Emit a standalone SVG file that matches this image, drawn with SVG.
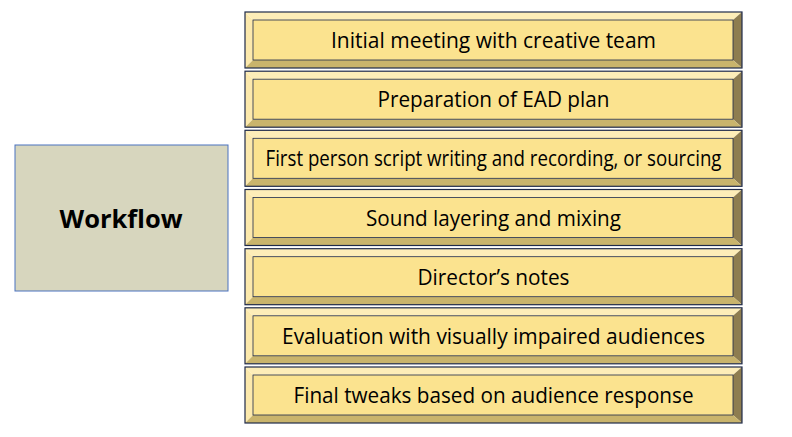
<svg xmlns="http://www.w3.org/2000/svg" width="792" height="437" viewBox="0 0 792 437">
<defs>
<style>
.face{fill:#FBE38F;stroke:#1F2A4A;stroke-width:0.8}
.bt{fill:#FDEDB8}
.bl{fill:#FCE9AC}
.br{fill:#8E7D50}
.bb{fill:#C9B46C}
.edge{fill:none;stroke:#1F2A4A;stroke-width:1.2}
.lbl{font-family:"Open Sans","Noto Sans",sans-serif;font-size:21px;fill:#000;text-anchor:middle}
.wf{font-family:"Open Sans","Noto Sans",sans-serif;font-size:25px;font-weight:bold;fill:#000;text-anchor:middle}
</style>
</defs>
<rect width="792" height="437" fill="#fff"/>
<g id="workflow">
<rect x="15" y="145" width="213" height="146" fill="#D7D6BE" stroke="#4A72C0" stroke-width="1"/>
<text class="wf" x="121" y="228" textLength="123" lengthAdjust="spacingAndGlyphs">Workflow</text>
</g>
<g id="step1" transform="translate(245,12)">
<polygon class="bt" points="0,0 497,0 488,8 8,8"/>
<polygon class="bl" points="0,0 8,8 8,48 0,56"/>
<polygon class="br" points="497,0 497,56 488,48 488,8"/>
<polygon class="bb" points="0,56 8,48 488,48 497,56"/>
<rect class="face" x="8" y="8" width="480" height="40"/>
<rect class="edge" x="0" y="0" width="497" height="56"/>
<text class="lbl" x="248.5" y="36" textLength="325" lengthAdjust="spacingAndGlyphs">Initial meeting with creative team</text>
</g>
<g id="step2" transform="translate(245,71.2)">
<polygon class="bt" points="0,0 497,0 488,8 8,8"/>
<polygon class="bl" points="0,0 8,8 8,48 0,56"/>
<polygon class="br" points="497,0 497,56 488,48 488,8"/>
<polygon class="bb" points="0,56 8,48 488,48 497,56"/>
<rect class="face" x="8" y="8" width="480" height="40"/>
<rect class="edge" x="0" y="0" width="497" height="56"/>
<text class="lbl" x="248.5" y="36" textLength="232" lengthAdjust="spacingAndGlyphs">Preparation of EAD plan</text>
</g>
<g id="step3" transform="translate(245,130.3)">
<polygon class="bt" points="0,0 497,0 488,8 8,8"/>
<polygon class="bl" points="0,0 8,8 8,48 0,56"/>
<polygon class="br" points="497,0 497,56 488,48 488,8"/>
<polygon class="bb" points="0,56 8,48 488,48 497,56"/>
<rect class="face" x="8" y="8" width="480" height="40"/>
<rect class="edge" x="0" y="0" width="497" height="56"/>
<text class="lbl" x="248.5" y="36" textLength="456" lengthAdjust="spacingAndGlyphs">First person script writing and recording, or sourcing</text>
</g>
<g id="step4" transform="translate(245,189.5)">
<polygon class="bt" points="0,0 497,0 488,8 8,8"/>
<polygon class="bl" points="0,0 8,8 8,48 0,56"/>
<polygon class="br" points="497,0 497,56 488,48 488,8"/>
<polygon class="bb" points="0,56 8,48 488,48 497,56"/>
<rect class="face" x="8" y="8" width="480" height="40"/>
<rect class="edge" x="0" y="0" width="497" height="56"/>
<text class="lbl" x="248.5" y="36" textLength="255" lengthAdjust="spacingAndGlyphs">Sound layering and mixing</text>
</g>
<g id="step5" transform="translate(245,248.7)">
<polygon class="bt" points="0,0 497,0 488,8 8,8"/>
<polygon class="bl" points="0,0 8,8 8,48 0,56"/>
<polygon class="br" points="497,0 497,56 488,48 488,8"/>
<polygon class="bb" points="0,56 8,48 488,48 497,56"/>
<rect class="face" x="8" y="8" width="480" height="40"/>
<rect class="edge" x="0" y="0" width="497" height="56"/>
<text class="lbl" x="248.5" y="36" textLength="152" lengthAdjust="spacingAndGlyphs">Director’s notes</text>
</g>
<g id="step6" transform="translate(245,307.8)">
<polygon class="bt" points="0,0 497,0 488,8 8,8"/>
<polygon class="bl" points="0,0 8,8 8,48 0,56"/>
<polygon class="br" points="497,0 497,56 488,48 488,8"/>
<polygon class="bb" points="0,56 8,48 488,48 497,56"/>
<rect class="face" x="8" y="8" width="480" height="40"/>
<rect class="edge" x="0" y="0" width="497" height="56"/>
<text class="lbl" x="248.5" y="36" textLength="423" lengthAdjust="spacingAndGlyphs">Evaluation with visually impaired audiences</text>
</g>
<g id="step7" transform="translate(245,367)">
<polygon class="bt" points="0,0 497,0 488,8 8,8"/>
<polygon class="bl" points="0,0 8,8 8,48 0,56"/>
<polygon class="br" points="497,0 497,56 488,48 488,8"/>
<polygon class="bb" points="0,56 8,48 488,48 497,56"/>
<rect class="face" x="8" y="8" width="480" height="40"/>
<rect class="edge" x="0" y="0" width="497" height="56"/>
<text class="lbl" x="248.5" y="36" textLength="400" lengthAdjust="spacingAndGlyphs">Final tweaks based on audience response</text>
</g>
<g id="connectors"/>
</svg>
